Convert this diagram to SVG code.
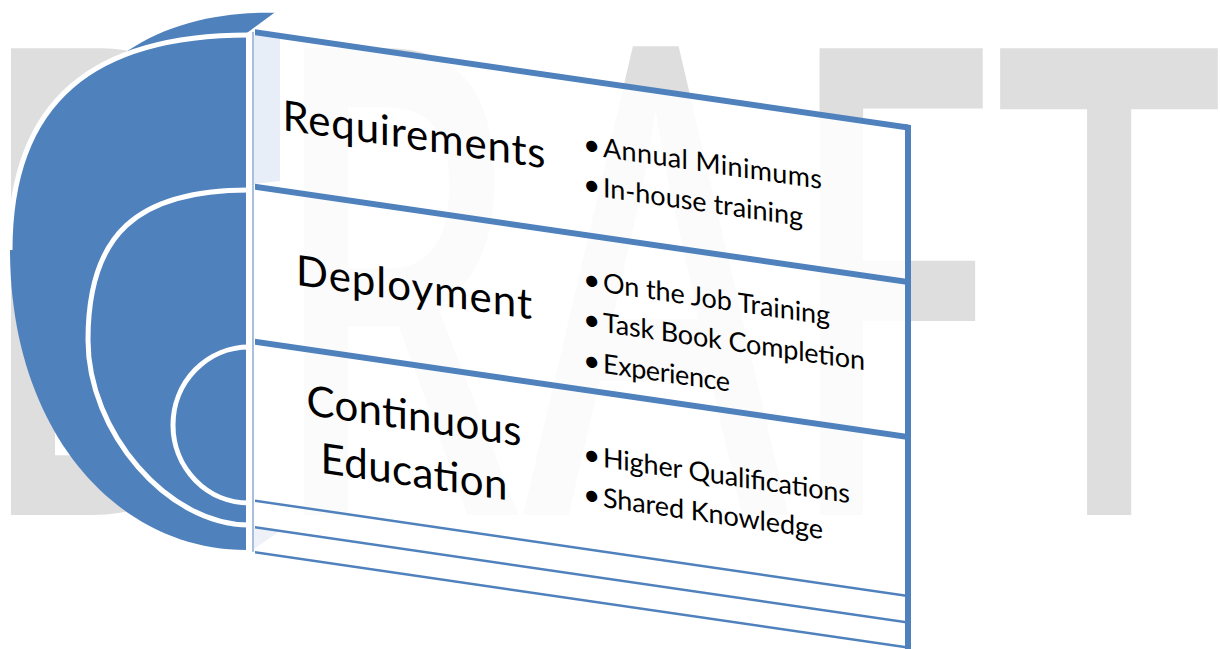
<svg xmlns="http://www.w3.org/2000/svg" width="1220" height="649" viewBox="0 0 1220 649">
<defs>
<style>
.wm{font-family:"Noto Sans","Open Sans",sans-serif;font-size:406px;font-weight:500;fill:#dedede}
.blue{fill:#4f81bd}
.arc{fill:none;stroke:#ffffff;stroke-width:5}
.thick{stroke:#4f81bd;stroke-width:6;fill:none}
.thin{stroke:#4f81bd;stroke-width:2.5;fill:none}
.title{font-family:Lato,"Open Sans",sans-serif;font-size:42px;fill:#000;text-anchor:middle}
.item{font-family:Lato,"Open Sans",sans-serif;font-size:27px;fill:#000}
.dot{font-family:Lato,"Open Sans",sans-serif;font-size:30px;fill:#000}
</style>
</defs>
<rect width="1220" height="649" fill="#ffffff"/>
<g id="watermark" transform="translate(0 515) scale(1 1.61)">
<text class="wm" y="0"><tspan x="-27">D</tspan><tspan x="266">R</tspan><tspan x="523">A</tspan><tspan x="781">F</tspan><tspan x="995">T</tspan></text>
</g>
<g id="disc">
<path class="blue" d="M 248 35 L 279 13 C 230 11 172 20 126 52 L 150 48 Z"/>
<path class="blue" d="M 246 35 C 94 35 10 100 10 250 C 10 430 116 550 246 550 Z"/>
<path class="arc" d="M 249 35 C 94 35 10 100 10 250"/>
<path class="arc" d="M 247 36 L 281 11"/>
<path class="arc" d="M 249 190 C 136 190 88 235 88 340 C 88 432 168 525 249 525"/>
<path class="arc" d="M 249 347 A 76 78 0 0 0 249 503"/>
</g>
<g id="panel" transform="matrix(1 0.146 0 1 0 0)">
<rect x="253" y="-5" width="655" height="520" fill="#ffffff" fill-opacity="0.88"/>
<polygon points="254,-2 280,-2 280,140 254,147" fill="#e8eef7"/>
<polygon points="254,490 280,490 254,512" fill="#eef2f8"/>
<g id="panel-lines">
<line x1="253" y1="-5" x2="253" y2="515" stroke="#a8bfde" stroke-width="2"/>
<line class="thick" x1="255" y1="-5" x2="908" y2="-5"/>
<line class="thick" x1="255" y1="149.5" x2="908" y2="149.5"/>
<line class="thick" x1="255" y1="304.5" x2="908" y2="304.5"/>
<line class="thin" x1="255" y1="463.5" x2="908" y2="463.5"/>
<line class="thin" x1="255" y1="490" x2="908" y2="490"/>
<line class="thin" x1="255" y1="515" x2="908" y2="515"/>
<line class="thick" x1="908" y1="-8" x2="908" y2="520"/>
</g>
<g id="requirements">
<text class="title" x="414" y="88.7" textLength="263">Requirements</text>
<text class="dot" x="583" y="69">•</text><text class="item" x="603" y="69" textLength="219">Annual Minimums</text>
<text class="dot" x="583" y="109">•</text><text class="item" x="603" y="109" textLength="200">In-house training</text>
</g>
<g id="deployment">
<text class="title" x="414" y="241.5" textLength="236">Deployment</text>
<text class="dot" x="583" y="204">•</text><text class="item" x="603" y="204" textLength="227">On the Job Training</text>
<text class="dot" x="583" y="244">•</text><text class="item" x="603" y="244" textLength="262">Task Book Completion</text>
<text class="dot" x="583" y="285">•</text><text class="item" x="603" y="285" textLength="127">Experience</text>
</g>
<g id="continuous-education">
<text class="title" x="414" y="370" textLength="215">Continuous</text>
<text class="title" x="414" y="426" textLength="187">Education</text>
<text class="dot" x="583" y="379">•</text><text class="item" x="603" y="379" textLength="247">Higher Qualifications</text>
<text class="dot" x="583" y="419">•</text><text class="item" x="603" y="419" textLength="220">Shared Knowledge</text>
</g>
</g>
</svg>
